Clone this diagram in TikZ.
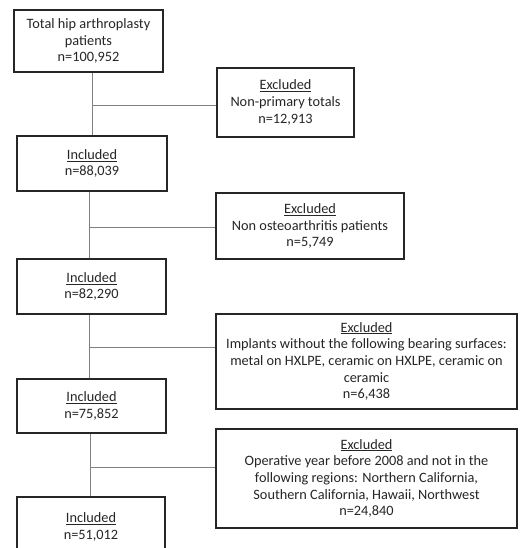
\documentclass[tikz,border=0pt]{standalone}
\usepackage{fontspec}
\setmainfont{Carlito}

\begin{document}
\begin{tikzpicture}[
    x=1pt, y=-1pt,
    font=\fontsize{14.3}{16.7}\selectfont,
    box/.style={draw=black!85, line width=1.3pt, rectangle, fill=white, text=black!85, align=center, inner sep=0pt},
    link/.style={draw=black!50, line width=0.9pt}
  ]

  \clip (0,0) rectangle (519,548);

  \node[box, minimum width=149pt, minimum height=62pt] (total) at (88.5,41) {Total hip arthroplasty\\patients\\n=100,952};
  \node[box, minimum width=150pt, minimum height=55pt] (inc1) at (92,163.5) {\underline{Included}\\n=88,039};
  \node[box, minimum width=149pt, minimum height=55pt] (inc2) at (91.5,286.5) {\underline{Included}\\n=82,290};
  \node[box, minimum width=149pt, minimum height=54pt] (inc3) at (91.5,406) {\underline{Included}\\n=75,852};
  \node[box, minimum width=148pt, minimum height=60pt] (inc4) at (91,527) {\underline{Included}\\n=51,012};

  \node[box, minimum width=137pt, minimum height=69pt] (exc1) at (285.5,102.5) {\underline{Excluded}\\Non-primary totals\\n=12,913};
  \node[box, minimum width=188pt, minimum height=66pt] (exc2) at (310,226) {\underline{Excluded}\\Non osteoarthritis patients\\n=5,749};
  \node[box, minimum width=301pt, minimum height=95pt] (exc3) at (366.5,361.5) {\underline{Excluded}\\Implants without the following bearing surfaces:\\metal on HXLPE, ceramic on HXLPE, ceramic on\\ceramic\\n=6,438};
  \node[box, minimum width=301pt, minimum height=99pt] (exc4) at (366.5,478.5) {\underline{Excluded}\\Operative year before 2008 and not in the\\following regions: Northern California,\\Southern California, Hawaii, Northwest\\n=24,840};

  \coordinate (j1) at (92,105);
  \coordinate (j2) at (89,227);
  \coordinate (j3) at (89.5,347);
  \coordinate (j4) at (90,467);

  \draw[link] (total.south -| j1) -- (inc1.north -| j1);
  \draw[link] (inc1.south -| j2) -- (inc2.north -| j2);
  \draw[link] (inc2.south -| j3) -- (inc3.north -| j3);
  \draw[link] (inc3.south -| j4) -- (inc4.north -| j4);

  \draw[link] (j1) -- (j1 -| exc1.west);
  \draw[link] (j2) -- (j2 -| exc2.west);
  \draw[link] (j3) -- (j3 -| exc3.west);
  \draw[link] (j4) -- (j4 -| exc4.west);

\end{tikzpicture}
\end{document}
